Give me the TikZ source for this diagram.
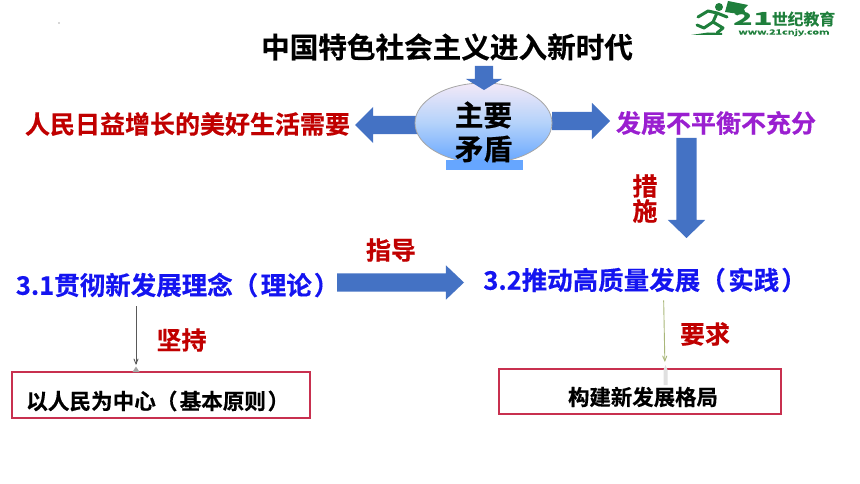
\documentclass[tikz,border=0pt]{standalone}
\usepackage{fontspec}
\usepackage{xcolor}
\setmainfont{Noto Sans CJK SC}[BoldFont=* Bold,BoldFeatures={FakeBold=0.4}]
\usetikzlibrary{shapes,arrows,positioning}
\definecolor{arrowblue}{HTML}{4472C4}
\definecolor{darkred}{HTML}{C00000}
\definecolor{textblue}{HTML}{1414F0}
\definecolor{purpletext}{HTML}{9A1FD0}
\definecolor{boxred}{HTML}{C8304F}
\definecolor{logogreen}{HTML}{1F7F3C}
\definecolor{topshade}{HTML}{F3E9F8}
\definecolor{midshade}{HTML}{B4D2FA}
\definecolor{bottomshade}{HTML}{66A6FF}
\definecolor{oliveline}{HTML}{A9B77A}
\tikzset{
    word/.style={inner sep=0pt,outer sep=0pt,font=\bfseries\fontsize{#1}{#1}\selectfont},
    word/.default=25pt,
    blockarrow/.style={single arrow,fill=arrowblue,draw=none,outer sep=0pt,anchor=tail,
        single arrow head indent=0pt},
    framebox/.style={draw=boxred,line width=1.4pt,fill=white,inner sep=0pt,outer sep=0pt},
    thinarrow/.style={->,>=angle 45,line width=0.9pt}
}
\newcommand{\widepar}[1]{（\hspace{.1em}#1\hspace{.08em}）}
\begin{document}
\begin{tikzpicture}[x=1pt,y=-1pt]
    \useasboundingbox (0,0) rectangle (860,484);

    \node[word=28.6pt] (title) at (447,47) {中国特色社会主义进入新时代};
    \node[word=5pt] (dot) at (59,23) {.};

    \node[blockarrow,shape border rotate=180,minimum height=63pt,minimum width=36pt,
        inner sep=9pt,single arrow head extend=9pt] (needarrow) at (418,125) {};
    \node[blockarrow,minimum height=58pt,minimum width=36pt,
        inner sep=9pt,single arrow head extend=9pt] (gaparrow) at (552,121) {};

    \node[ellipse,draw=black!35,line width=0.8pt,minimum width=137pt,minimum height=80pt,
        inner sep=0pt,top color=topshade,bottom color=bottomshade,middle color=midshade]
        (core) at (483.5,123) {};
    \fill[bottomshade] (446,160) rectangle (523,170);
    \node[word=28.7pt,align=center] (coretop) at (483.5,115) {主要};
    \node[word=28.7pt,align=center] (corelow) at (483.5,149) {矛盾};

    \node[blockarrow,shape border rotate=270,minimum height=22pt,minimum width=36pt,
        inner sep=9pt,single arrow head extend=9pt,single arrow tip angle=117]
        (toparrow) at (484,66) {};

    \node[word,text=darkred] (need) at (187.5,124) {人民日益增长的美好生活需要};
    \node[word,text=purpletext] (gap) at (716,123) {发展不平衡不充分};

    \node[blockarrow,shape border rotate=270,minimum height=100pt,minimum width=37pt,
        inner sep=10pt,single arrow head extend=8.5pt,single arrow tip angle=92]
        (downarrow) at (686.5,138) {};
    \node[word,text=darkred] (cuo) at (645,186) {措};
    \node[word,text=darkred] (shi) at (645,211) {施};

    \node[word=25.5pt,text=textblue] (theory) at (177.6,285) {3.1贯彻新发展理念\widepar{理论}};
    \node[word=25.5pt,text=textblue] (practice) at (645.1,280) {3.2推动高质量发展\widepar{实践}};
    \node[word,text=darkred] (guide) at (391,250) {指导};
    \node[blockarrow,minimum height=127pt,minimum width=34pt,
        inner sep=9pt,single arrow head extend=8pt,single arrow tip angle=87]
        (midarrow) at (337,282.5) {};

    \node[framebox,minimum width=298pt,minimum height=46pt] (peoplebox) at (161,395) {};
    \node[word=21.6pt] (people) at (157.8,401) {以人民为中心\widepar{基本原则}};
    \node[framebox,minimum width=282pt,minimum height=45pt] (patternbox) at (640,391.5) {};
    \node[word=21.4pt] (pattern) at (643,397) {构建新发展格局};
    \node[word,text=darkred] (keep) at (181.5,340) {坚持};
    \node[word,text=darkred] (demand) at (705,334) {要求};

    \fill[black!35] (132.5,372) -- (136,366.5) -- (139.5,372) -- cycle;
    \fill[black!12] (663.5,385) -- (663.5,370) -- (665.5,365) -- (667.5,370) -- (667.5,385) -- cycle;
    \draw[thinarrow,black!65,shorten >=7pt,shorten <=9pt]
        ([xshift=-41.6pt]theory.south) -- ([xshift=-25pt]peoplebox.north);
    \draw[thinarrow,oliveline,shorten >=7pt,shorten <=8pt]
        ([xshift=18.4pt]practice.south) -- ([xshift=25pt]patternbox.north);

    % logo
    \fill[logogreen] (719,7) circle (4);
    \fill[logogreen] (728,1) -- (748,5) -- (744,9) -- (746,14) -- (732,13) -- (725,12) -- cycle;
    \draw[logogreen,line width=3pt,line cap=round,line join=round]
        (698,17) -- (708,11) -- (717,13) -- (727,17) (717,13) -- (713,22)
        -- (723,28) -- (717,33) (713,22) -- (704,28) -- (697,25);
    \fill[logogreen] (691,35) -- (708,32.5) -- (722,33) -- (722,35) -- cycle;
    \node[word=18pt,text=logogreen,font=\bfseries\itshape\fontsize{18}{18}\selectfont,
        xscale=1.8,transform shape] (logonum) at (753.5,19) {21};
    \node[word=15.8pt,text=logogreen] (logoname) at (803.5,19) {世纪教育};
    \node[word=7pt,text=logogreen,xscale=1.55,transform shape] (logourl) at (784,32.5) {www.21cnjy.com};
\end{tikzpicture}
\end{document}
